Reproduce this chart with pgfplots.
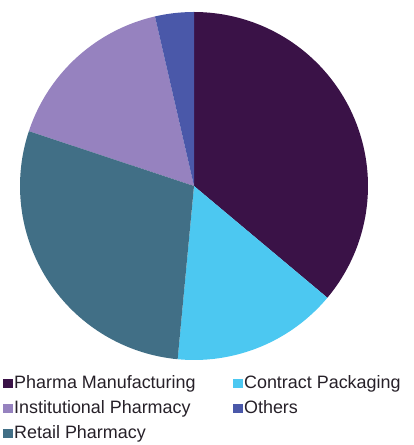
\documentclass[border=0pt]{standalone}
\usepackage{pgfplots}
\usepackage{pgfplotstable}
\pgfplotsset{compat=1.18}
\usepackage{fontspec}
\setmainfont{Liberation Sans}
\definecolor{cPharma}{HTML}{3A1247}
\definecolor{cContract}{HTML}{4CC8F1}
\definecolor{cRetail}{HTML}{416F86}
\definecolor{cInst}{HTML}{9682BF}
\definecolor{cOthers}{HTML}{4A58A9}
\definecolor{ctext}{HTML}{262028}
\pgfplotstableread{
label value
Pharma 36.1
Contract 15.4
Retail 28.6
Institutional 16.3
Others 3.6
}\piedata
\pgfplotstablegetelem{0}{value}\of\piedata \edef\vA{\pgfplotsretval}
\pgfplotstablegetelem{1}{value}\of\piedata \edef\vB{\pgfplotsretval}
\pgfplotstablegetelem{2}{value}\of\piedata \edef\vC{\pgfplotsretval}
\pgfplotstablegetelem{3}{value}\of\piedata \edef\vD{\pgfplotsretval}
\pgfplotstablegetelem{4}{value}\of\piedata \edef\vE{\pgfplotsretval}
\pgfmathsetmacro\aA{0}
\pgfmathsetmacro\aB{3.6*\vA}
\pgfmathsetmacro\aC{\aB+3.6*\vB}
\pgfmathsetmacro\aD{\aC+3.6*\vC}
\pgfmathsetmacro\aE{\aD+3.6*\vD}
\pgfmathsetmacro\aF{\aE+3.6*\vE}
\def\cx{194}
\def\cy{259}
\def\rr{174}
\begin{document}
\begin{tikzpicture}
\begin{axis}[
  scale only axis, width=414bp, height=445bp,
  xmin=0, xmax=414, ymin=0, ymax=445,
  hide axis, clip=false,
  legend columns=2,
  legend cell align=left,
  legend image code/.code={\fill[#1] (0bp,-4.5bp) rectangle (9.5bp,5bp);},
  legend style={at={(axis cs:3,72)}, anchor=north west, draw=none, fill=none,
    inner sep=0pt, row sep=4bp,
    font=\fontsize{18}{21}\selectfont\color{ctext},
    nodes={inner xsep=1.5bp, inner ysep=2bp, text height=13bp, text depth=4bp},
    /tikz/every even column/.append style={column sep=36bp}},
]
\addplot[fill=cPharma, draw=none, domain=\aA:\aB, samples=80]
  ({\cx+\rr*sin(x)},{\cy+\rr*cos(x)}) -- (axis cs:\cx,\cy) -- cycle;
\addlegendentry{Pharma Manufacturing}
\addplot[fill=cContract, draw=none, domain=\aB:\aC, samples=60]
  ({\cx+\rr*sin(x)},{\cy+\rr*cos(x)}) -- (axis cs:\cx,\cy) -- cycle;
\addlegendentry{Contract Packaging}
\addplot[fill=cInst, draw=none, domain=\aD:\aE, samples=60]
  ({\cx+\rr*sin(x)},{\cy+\rr*cos(x)}) -- (axis cs:\cx,\cy) -- cycle;
\addlegendentry{Institutional Pharmacy}
\addplot[fill=cOthers, draw=none, domain=\aE:\aF, samples=20]
  ({\cx+\rr*sin(x)},{\cy+\rr*cos(x)}) -- (axis cs:\cx,\cy) -- cycle;
\addlegendentry{Others}
\addplot[fill=cRetail, draw=none, domain=\aC:\aD, samples=70]
  ({\cx+\rr*sin(x)},{\cy+\rr*cos(x)}) -- (axis cs:\cx,\cy) -- cycle;
\addlegendentry{Retail Pharmacy}
\end{axis}
\path (current axis.south west) rectangle (current axis.north east);
\end{tikzpicture}
\end{document}
